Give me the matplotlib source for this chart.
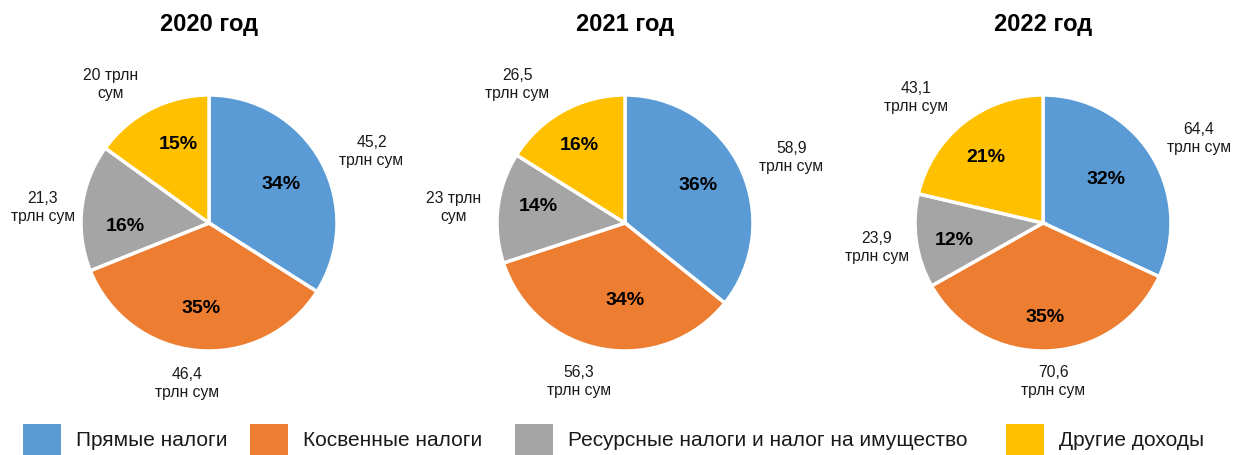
import numpy as np
import matplotlib
matplotlib.use("Agg")
import matplotlib.pyplot as plt
from matplotlib.patches import Rectangle

plt.rcParams['font.family'] = ['Liberation Sans', 'DejaVu Sans']

years = ["2020 год", "2021 год", "2022 год"]
categories = ["Прямые налоги", "Косвенные налоги",
              "Ресурсные налоги и налог на имущество", "Другие доходы"]
values_2020 = [45.2, 46.4, 21.3, 20.0]
values_2021 = [58.9, 56.3, 23.0, 26.5]
values_2022 = [64.4, 70.6, 23.9, 43.1]
value_labels_2020 = ["45,2", "46,4", "21,3", "20"]
value_labels_2021 = ["58,9", "56,3", "23", "26,5"]
value_labels_2022 = ["64,4", "70,6", "23,9", "43,1"]
pct_2020 = [34, 35, 16, 15]
pct_2021 = [36, 34, 14, 16]
pct_2022 = [32, 35, 12, 21]

colors = ["#5B9BD5", "#ED7D31", "#A5A5A5", "#FFC000"]

all_values = [values_2020, values_2021, values_2022]
all_vlabels = [value_labels_2020, value_labels_2021, value_labels_2022]
all_pcts = [pct_2020, pct_2021, pct_2022]

# --- style: label placement (in pie-radius units, relative to pie centre) ---
pct_pos = [[(0.56, 0.31), (-0.06, -0.66), (-0.65, -0.02), (-0.24, 0.62)],
           [(0.57, 0.30), (0.00, -0.60), (-0.68, 0.14), (-0.36, 0.61)],
           [(0.49, 0.35), (0.02, -0.73), (-0.69, -0.13), (-0.45, 0.52)]]
val_pos = [[(1.27, 0.57), (-0.17, -1.25), (-1.30, 0.125), (-0.77, 1.09)],
           [(1.30, 0.52), (-0.36, -1.23), (-1.34, 0.13), (-0.84, 1.09)],
           [(1.22, 0.67), (0.08, -1.23), (-1.30, -0.18), (-0.99, 0.99)]]
# outer label line break style: 0 -> "val\nтрлн сум", 1 -> "val трлн\nсум"
split_style = [[0, 0, 0, 1],
               [0, 0, 1, 0],
               [0, 0, 0, 0]]

W, H = 1233, 456
fig = plt.figure(figsize=(W / 100, H / 100), dpi=100)

centers_x = [209, 625, 1043]
center_y = 224
R = 128
k = 1.6
side = 2 * R * k

for i in range(3):
    cx = centers_x[i]
    ax = fig.add_axes([(cx - side / 2) / W, (H - center_y - side / 2) / H, side / W, side / H])
    wedges, _ = ax.pie(all_values[i], colors=colors, startangle=90, counterclock=False,
                       radius=1, wedgeprops=dict(edgecolor="white", linewidth=2.5))
    ax.set_xlim(-k, k)
    ax.set_ylim(-k, k)
    ax.set_aspect("equal")
    ax.axis("off")
    for j, w in enumerate(wedges):
        px, py = pct_pos[i][j]
        ax.text(px, py, f"{all_pcts[i][j]}%",
                ha="center", va="center", fontsize=14, fontweight="bold", color="black")
        v = all_vlabels[i][j]
        txt = f"{v} трлн\nсум" if split_style[i][j] else f"{v}\nтрлн сум"
        vx, vy = val_pos[i][j]
        ax.text(vx, vy, txt, ha="center", va="center",
                fontsize=11.3, color="#1a1a1a", linespacing=1.25)
    fig.text(cx / W, (H - 25) / H, years[i], ha="center", va="center",
             fontsize=17, fontweight="bold")

# legend (manually laid out to match reference spacing)
leg_square_x = [23, 250, 515, 1006]
sq_w, sq_h = 38, 32
leg_cy = 441
for c, lab, x0 in zip(colors, categories, leg_square_x):
    fig.patches.append(Rectangle((x0 / W, (H - leg_cy - sq_h / 2) / H), sq_w / W, sq_h / H,
                                 transform=fig.transFigure, facecolor=c, edgecolor="none"))
    fig.text((x0 + sq_w + 15) / W, (H - leg_cy) / H, lab, ha="left", va="center",
             fontsize=15, color="#1a1a1a")

fig.savefig("out.png", dpi=100, facecolor="white")
